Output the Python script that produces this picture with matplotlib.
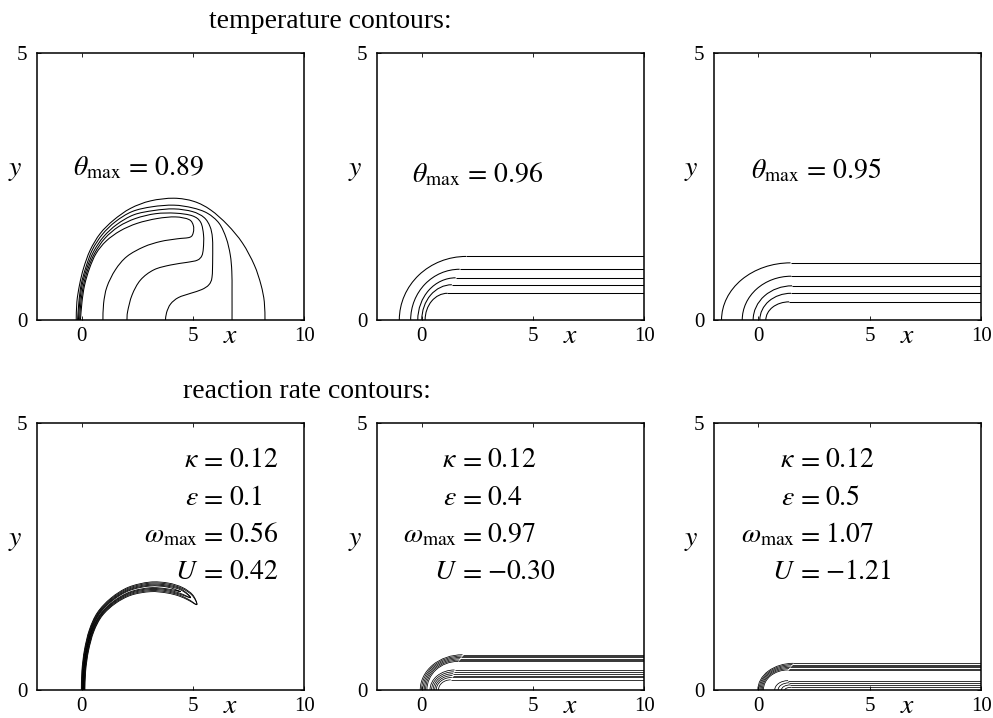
import numpy as np
import matplotlib.pyplot as plt
from matplotlib.path import Path
from matplotlib.patches import PathPatch, Arc

plt.rcParams['font.family'] = ['Liberation Serif', 'DejaVu Serif']
plt.rcParams['mathtext.fontset'] = 'stix'

# ---- panel 1: temperature contours, eps = 0.1 ----
t1_a_x = [-0.24, -0.21, -0.09, 0.09, 0.39, 0.84, 1.44, 2.20, 3.10, 4.15, 5.05, 5.80, 6.56, 7.23, 7.76, 8.06, 8.21, 8.24]
t1_a_y = [0.00, 0.34, 0.66, 0.97, 1.31, 1.62, 1.87, 2.09, 2.23, 2.28, 2.22, 2.06, 1.78, 1.44, 1.03, 0.66, 0.34, 0.00]
t1_b_x = [-0.18, -0.12, -0.02, 0.18, 0.48, 0.93, 1.52, 2.27, 3.17, 4.15, 4.98, 5.65, 6.18, 6.50, 6.68, 6.75, 6.76, 6.76]
t1_b_y = [0.00, 0.34, 0.66, 0.97, 1.31, 1.60, 1.84, 2.03, 2.12, 2.15, 2.10, 2.00, 1.81, 1.53, 1.22, 0.91, 0.53, 0.00]
t1_g_x = [-0.14, -0.08, 0.03, 0.24, 0.54, 0.99, 1.59, 2.35, 3.25, 4.15, 4.98, 5.50, 5.77, 5.88, 5.89, 5.86, 5.72, 5.40, 4.90, 4.35, 4.00, 3.82, 3.77]
t1_g_y = [0.00, 0.34, 0.66, 0.97, 1.28, 1.56, 1.79, 1.97, 2.05, 2.08, 2.03, 1.92, 1.75, 1.53, 1.15, 0.80, 0.66, 0.57, 0.50, 0.42, 0.30, 0.14, 0.00]
t1_f_x = [-0.09, -0.03, 0.09, 0.30, 0.60, 1.05, 1.67, 2.42, 3.32, 4.22, 4.98, 5.35, 5.48, 5.47, 5.40, 5.20, 4.75, 4.00, 3.25, 2.65, 2.27, 2.07, 2.04]
t1_f_y = [0.00, 0.34, 0.66, 0.97, 1.26, 1.53, 1.75, 1.90, 1.99, 2.00, 1.95, 1.83, 1.59, 1.34, 1.20, 1.12, 1.08, 1.03, 0.94, 0.75, 0.47, 0.16, 0.00]
t1_e_x = [-0.05, 0.02, 0.14, 0.36, 0.66, 1.11, 1.74, 2.50, 3.40, 4.22, 4.83, 5.02, 5.02, 4.87, 4.30, 3.55, 2.80, 2.04, 1.52, 1.14, 0.99, 0.96]
t1_e_y = [0.00, 0.34, 0.66, 0.97, 1.25, 1.48, 1.67, 1.81, 1.90, 1.93, 1.88, 1.77, 1.64, 1.55, 1.52, 1.47, 1.37, 1.19, 0.94, 0.62, 0.31, 0.00]
theta_max = ['0.89', '0.96', '0.95']

# ---- panels 2, 3: temperature fronts (foot on y=0, plateau height, corner width) ----
t2_foot = [-1.00, -0.49, -0.17, 0.01, 0.16]
t2_height = [1.19, 0.95, 0.79, 0.66, 0.50]
t2_corner = [3.0, 2.2, 1.7, 1.35, 1.0]
t3_foot = [-1.66, -0.73, -0.24, 0.06, 0.33]
t3_height = [1.07, 0.82, 0.64, 0.50, 0.34]
t3_corner = [3.1, 2.2, 1.75, 1.4, 1.05]

# ---- panel 4: reaction rate crescent (centre line, half width in px) ----
r1_cx = [0.07, 0.10, 0.22, 0.45, 0.82, 1.42, 2.17, 3.08, 3.85, 4.45, 4.90, 5.18]
r1_cy = [0.00, 0.36, 0.74, 1.11, 1.42, 1.67, 1.85, 1.93, 1.91, 1.84, 1.73, 1.60]
r1_hw = [1.8, 1.9, 2.1, 2.4, 2.9, 3.5, 4.2, 4.8, 5.0, 4.6, 3.4, 0.0]
r1_scale = [1.0, 0.78, 0.56, 0.36, 0.18]
r1_end = [12, 12, 11, 11, 10]

# ---- panels 5, 6: reaction rate fronts, upper and lower bundles ----
r2_foot = [-0.06, 0.00, 0.06, 0.12, 0.18, 0.24, 0.38, 0.45, 0.52, 0.59, 0.66, 0.76]
r2_height = [0.66, 0.635, 0.61, 0.585, 0.56, 0.535, 0.375, 0.34, 0.305, 0.27, 0.235, 0.19]
r2_corner = [1.9, 1.8, 1.7, 1.6, 1.5, 1.4, 1.1, 1.0, 0.9, 0.8, 0.7, 0.55]
r3_foot = [-0.03, 0.02, 0.07, 0.12, 0.17, 0.22, 0.73, 0.88, 1.03, 1.18]
r3_height = [0.50, 0.475, 0.45, 0.425, 0.40, 0.375, 0.175, 0.135, 0.095, 0.05]
r3_corner = [1.6, 1.5, 1.4, 1.3, 1.2, 1.1, 0.6, 0.5, 0.4, 0.3]

kappa = ['0.12', '0.12', '0.12']
eps = ['0.1', '0.4', '0.5']
omega_max = ['0.56', '0.97', '1.07']
speed = ['0.42', '-0.30', '-1.21']

LW = 0.75
XMIN, XMAX = -2, 10
lefts = [0.0373, 0.3797, 0.7190]
bottoms = [0.5543, 0.039]
W, H = 0.269, 0.372
FS = 20


def smooth_path(xs, ys):
    p = np.column_stack([xs, ys]).astype(float)
    n = len(p)
    verts = [p[0]]
    codes = [Path.MOVETO]
    for i in range(n - 1):
        p0 = p[i - 1] if i > 0 else p[i]
        p3 = p[i + 2] if i + 2 < n else p[i + 1]
        verts += [p[i] + (p[i + 1] - p0) / 6, p[i + 1] - (p3 - p[i]) / 6, p[i + 1]]
        codes += [Path.CURVE4] * 3
    return Path(verts, codes)


def draw_curve(ax, xs, ys, lw=LW):
    ax.add_patch(PathPatch(smooth_path(xs, ys), fill=False, lw=lw, color='k'))


def draw_front(ax, feet, heights, corners, lw=LW):
    for x0, h, w in zip(feet, heights, corners):
        ax.add_patch(Arc((x0 + w, 0), 2 * w, 2 * h, theta1=90, theta2=180, lw=lw, color='k'))
        ax.hlines(h, x0 + w, XMAX, lw=lw, color='k')


def draw_crescent(ax):
    # offsets done in pixel-like units so they look even on screen
    sx, sy = 22.2, 53.4
    c = np.column_stack([np.array(r1_cx) * sx, np.array(r1_cy) * sy])
    tx = np.gradient(c[:, 0])
    ty = np.gradient(c[:, 1])
    nrm = np.hypot(tx, ty)
    nx, ny = -ty / nrm, tx / nrm
    hw = np.array(r1_hw)
    for f, m in zip(r1_scale, r1_end):
        d = hw[:m] * f
        d[-1] = 0.0
        ox = c[:m, 0] + nx[:m] * d
        oy = c[:m, 1] + ny[:m] * d
        ix = c[:m - 1, 0] - nx[:m - 1] * d[:-1]
        iy = c[:m - 1, 1] - ny[:m - 1] * d[:-1]
        xs = np.concatenate([ox, ix[::-1]]) / sx
        ys = np.concatenate([oy, iy[::-1]]) / sy
        draw_curve(ax, xs, ys, lw=0.6)


def style(ax):
    ax.set_xlim(XMIN, XMAX)
    ax.set_ylim(0, 5)
    ax.set_xticks([0, 5, 10])
    ax.set_yticks([0, 5])
    ax.tick_params(direction='in', top=True, right=True, length=3, width=0.6,
                   labelsize=15)
    ax.tick_params(axis='x', pad=5)
    ax.tick_params(axis='y', pad=7)
    for s in ax.spines.values():
        s.set_linewidth(1.1)
    ax.text(-3.0, 2.8, '$y$', fontsize=FS, ha='center', va='center', clip_on=False)
    ax.text(6.7, -0.3, '$x$', fontsize=FS, ha='center', va='center', clip_on=False)


fig = plt.figure(figsize=(9.93, 7.18), dpi=100)
axes = [[fig.add_axes([l, b, W, H]) for l in lefts] for b in bottoms]

# temperature row
ax = axes[0][0]
for xs, ys in [(t1_a_x, t1_a_y), (t1_b_x, t1_b_y), (t1_g_x, t1_g_y), (t1_f_x, t1_f_y), (t1_e_x, t1_e_y)]:
    draw_curve(ax, xs, ys)
draw_front(axes[0][1], t2_foot, t2_height, t2_corner)
draw_front(axes[0][2], t3_foot, t3_height, t3_corner)

theta_pos = [(-0.38, 2.70), (-0.42, 2.58), (-0.33, 2.66)]
for ax, val, (tx, ty) in zip(axes[0], theta_max, theta_pos):
    ax.text(tx, ty, r'$\theta_{\mathrm{max}}\,=\,%s$' % val, fontsize=FS, ha='left', va='baseline')

# reaction rate row
draw_crescent(axes[1][0])
draw_front(axes[1][1], r2_foot, r2_height, r2_corner, lw=0.55)
draw_front(axes[1][2], r3_foot, r3_height, r3_corner, lw=0.55)

eq_x = [5.83, 2.18, 2.22]
line_y = [4.17, 3.47, 2.77, 2.07]
lhs = [r'$\kappa$', r'$\epsilon$', r'$\omega_{\mathrm{max}}$', r'$U$']
for ax, ex, k, e, om, u in zip(axes[1], eq_x, kappa, eps, omega_max, speed):
    for a, b, yy in zip(lhs, [k, e, om, u], line_y):
        ax.text(ex - 0.58, yy, a, fontsize=FS, ha='right', va='baseline')
        ax.text(ex, yy, '$=$', fontsize=FS, ha='center', va='baseline')
        ax.text(ex + 0.78, yy, '$%s$' % b, fontsize=FS, ha='left', va='baseline')

for row in axes:
    for ax in row:
        style(ax)

fig.text(0.333, 1 - 28 / 718, 'temperature contours:', fontsize=FS, ha='center', va='baseline')
fig.text(0.309, 1 - 398 / 718, 'reaction rate contours:', fontsize=FS, ha='center', va='baseline')

fig.savefig('out.png', dpi=100)
